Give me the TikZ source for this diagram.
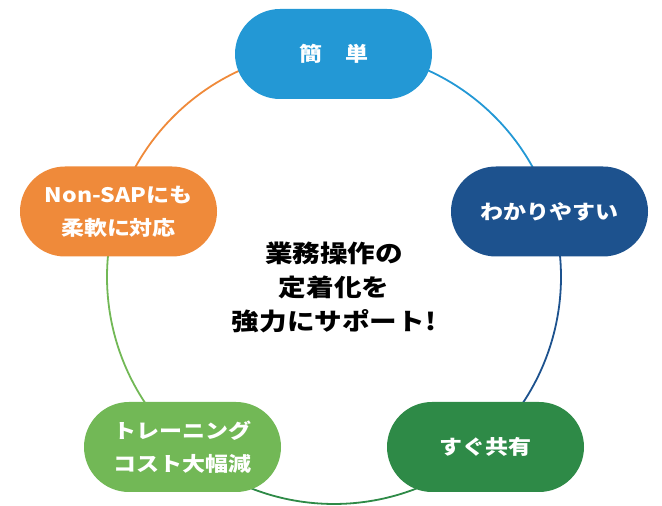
\documentclass[tikz,border=0pt]{standalone}
\usepackage{fontspec}
\setmainfont{Noto Sans CJK JP}[FakeStretch=1.15]
\definecolor{cTop}{HTML}{2398D5}
\definecolor{cRight}{HTML}{1D528E}
\definecolor{cBR}{HTML}{2E8A47}
\definecolor{cBL}{HTML}{72B856}
\definecolor{cLeft}{HTML}{EF8A3A}
\begin{document}
\begin{tikzpicture}[x=1pt,y=1pt,
  pill/.style={rectangle, rounded corners=45pt, minimum width=197pt, minimum height=90pt,
    inner sep=0pt, text=white, align=center, font=\bfseries\fontsize{20}{33}\selectfont},
  ring/.style={line width=1.8pt}]
\useasboundingbox (0,0) rectangle (662,506);
\coordinate (c) at (334,229);
\def\R{227}
\draw[ring, cTop]   (c) ++(90:\R)     arc[start angle=90, end angle=16.9, radius=\R];
\draw[ring, cRight] (c) ++(16.9:\R)   arc[start angle=16.9, end angle=-48.3, radius=\R];
\draw[ring, cBR]    (c) ++(-48.3:\R)  arc[start angle=-48.3, end angle=-131.7, radius=\R];
\draw[ring, cBL]    (c) ++(-131.7:\R) arc[start angle=-131.7, end angle=-196.9, radius=\R];
\draw[ring, cLeft]  (c) ++(163.1:\R)  arc[start angle=163.1, end angle=90, radius=\R];
\node[pill, fill=cTop]   (top)   at (333.5,452) {簡　単};
\node[pill, fill=cRight] (right) at (549.5,294.5) {わかりやすい};
\node[pill, fill=cBR]    (br)    at (485.5,59) {すぐ共有};
\node[pill, fill=cBL]    (bl)    at (182.5,59) {トレーニング\\コスト大幅減};
\node[pill, fill=cLeft]  (left)  at (118.5,294.5) {Non-SAPにも\\柔軟に対応};
\node[align=center, font=\bfseries\fontsize{24}{34}\selectfont] (mid) at (334,219) {業務操作の\\定着化を\\強力にサポート!};
\end{tikzpicture}
\end{document}
